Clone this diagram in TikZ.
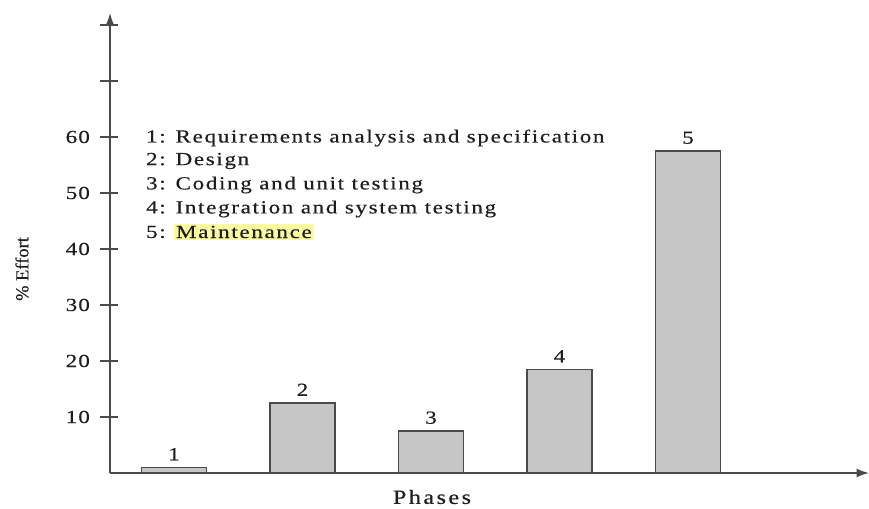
\documentclass[tikz,border=0pt]{standalone}
\usepackage{fontspec}
\setmainfont{Liberation Serif}[FakeBold=0.4]
\usetikzlibrary{arrows.meta,positioning}
\definecolor{BarGray}{HTML}{C6C6C6}
\definecolor{AxisGray}{HTML}{4A4A4A}
\definecolor{MarkYellow}{HTML}{FAFAA0}
\definecolor{TextGray}{HTML}{1E1E1E}

\begin{document}
\begin{tikzpicture}[x=0.02cm, y=0.02cm,
  axis/.style={AxisGray, line width=0.8pt},
  bar/.style={draw=AxisGray, fill=BarGray, line width=0.7pt},
  txt/.style={font=\fontsize{10.5}{12}\selectfont, text=TextGray, inner sep=1pt},
  wide/.style={txt, font=\fontsize{10.5}{12}\selectfont
    \addfontfeature{FakeStretch=1.25, LetterSpace=9}},
  num/.style={txt, font=\fontsize{10.5}{12}\selectfont
    \addfontfeature{FakeStretch=1.25, LetterSpace=6}},
  legend/.style={wide, anchor=west}]
  \useasboundingbox (-110,-36) rectangle (759,473);
  % Axes
  \coordinate (O) at (0,0);
  \coordinate (ytop) at (0,460);
  \coordinate (xend) at (759,0);
  \draw[axis, -{Latex[length=7pt, width=5pt]}] (O) -- (ytop);
  \draw[axis, -{Latex[length=7pt, width=5pt]}] (O) -- (xend);
  % Ticks
  \foreach \k in {1,...,8}
    \draw[axis] (-10,56*\k) -- (8,56*\k);
  \foreach \k in {1,...,6}
    \node[num, anchor=east] (tick\k) at (-18,56*\k) {\k0};
  % Bars
  \foreach \i/\v in {1/1, 2/12.5, 3/7.5, 4/18.5, 5/57.5}
  {%
    \pgfmathsetmacro{\xc}{64+128.5*(\i-1)}
    \draw[bar] (\xc-32.5,0) rectangle (\xc+32.5,5.6*\v);
    \node[num, anchor=south] (bar\i) at (\xc,5.6*\v+5) {\i};
  }
  % Legend
  \node[legend] (leg1) at (34,335) {1: Requirements analysis and specification};
  \node[legend] (leg2) at (34,312) {2: Design};
  \node[legend] (leg3) at (34,288) {3: Coding and unit testing};
  \node[legend] (leg4) at (34,264) {4: Integration and system testing};
  \node[legend] (leg5) at (34,241) {5:};
  \node[legend, fill=MarkYellow, right=3.5pt of leg5] (maint) {Maintenance};
  % Axis labels
  \node[txt, rotate=90] (ylabel) at (-88,204) {\% Effort};
  \node[txt, font=\fontsize{11.5}{14}\selectfont
    \addfontfeature{FakeStretch=1.2, LetterSpace=12}] (xlabel) at (322,-24) {Phases};
\end{tikzpicture}
\end{document}
